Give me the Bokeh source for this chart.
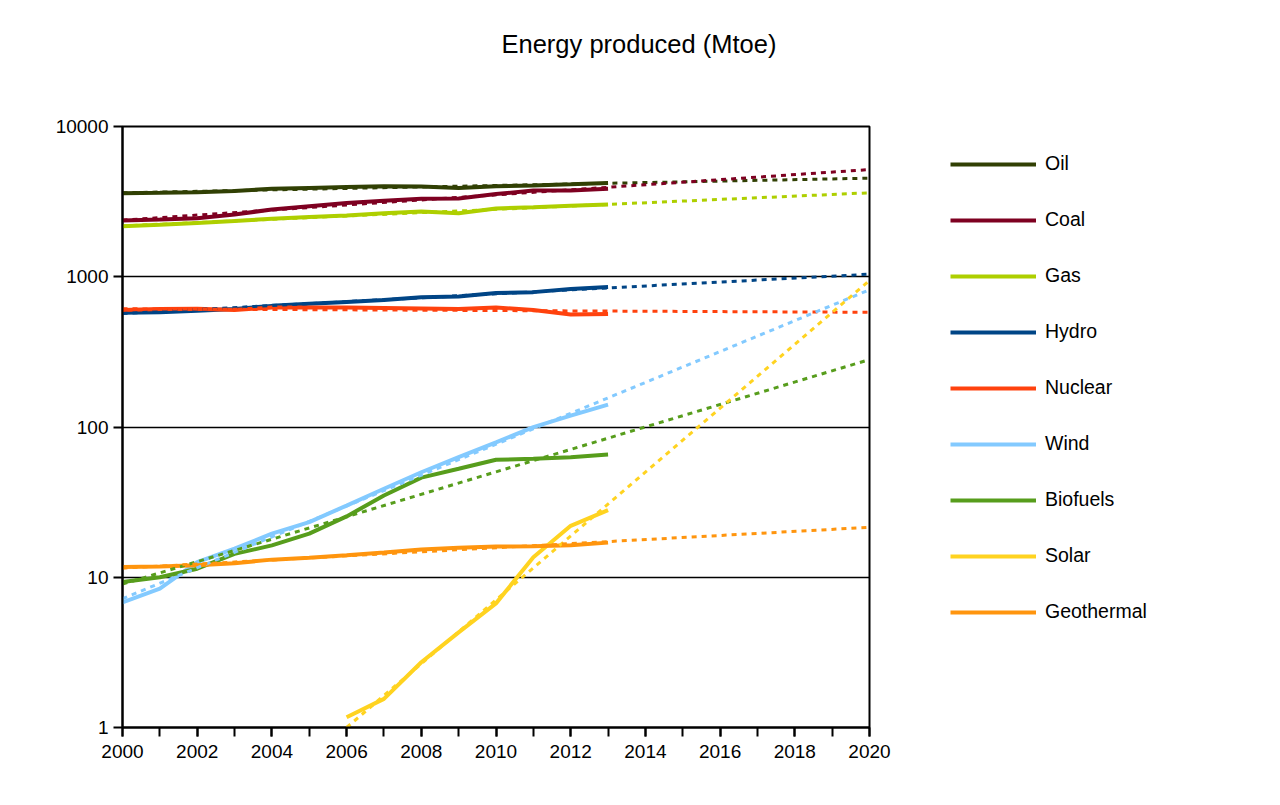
from bokeh.plotting import figure
from bokeh.models import Range1d, FixedTicker, PrintfTickFormatter, Legend, LegendItem, Title
from bokeh.embed import file_html
from bokeh.resources import INLINE

# ---- data (Mtoe) ----
years = list(range(2000, 2014))
solar_years = list(range(2006, 2014))

oil = [3600, 3620, 3650, 3720, 3850, 3900, 3950, 4000, 3990, 3900, 4000, 4050, 4120, 4200]
coal = [2370, 2400, 2450, 2600, 2800, 2950, 3100, 3200, 3300, 3320, 3550, 3750, 3750, 3850]
gas = [2170, 2220, 2280, 2350, 2430, 2500, 2560, 2650, 2720, 2650, 2850, 2900, 2970, 3030]
hydro = [575, 580, 595, 610, 640, 660, 680, 700, 730, 740, 780, 790, 830, 855]
nuclear = [600, 610, 612, 600, 625, 625, 625, 620, 615, 610, 625, 600, 560, 565]
wind = [6.8, 8.4, 12.6, 15.5, 19.5, 23.3, 30, 38.8, 50, 63, 79, 99.7, 119, 141]
biofuels = [9.3, 10, 11.4, 14.3, 16.3, 19.5, 25.4, 35, 46, 52.7, 60.5, 61.4, 63, 65.6]
solar = [1.17, 1.55, 2.72, 4.3, 6.7, 13.6, 22, 28]
geothermal = [11.7, 11.8, 12, 12.4, 13.1, 13.5, 14, 14.6, 15.3, 15.7, 16, 16.1, 16.3, 17]

# trend lines: start / end values
trend_years = [2000, 2020]
solar_trend_years = [2006, 2020]
oil_trend = [3620, 4530]
coal_trend = [2380, 5170]
gas_trend = [2180, 3620]
hydro_trend = [570, 1040]
nuclear_trend = [612, 580]
wind_trend = [7.2, 819]
biofuels_trend = [9.0, 281]
solar_trend = [1.0, 944]
geothermal_trend = [11.5, 21.5]

names = ["Oil", "Coal", "Gas", "Hydro", "Nuclear", "Wind", "Biofuels", "Solar", "Geothermal"]
colors = ["#314004", "#7e0021", "#aecf00", "#004586", "#ff420e",
          "#83caff", "#579d1c", "#ffd320", "#ff950e"]
series = [(years, oil), (years, coal), (years, gas), (years, hydro), (years, nuclear),
          (years, wind), (years, biofuels), (solar_years, solar), (years, geothermal)]
trends = [(trend_years, oil_trend), (trend_years, coal_trend), (trend_years, gas_trend),
          (trend_years, hydro_trend), (trend_years, nuclear_trend), (trend_years, wind_trend),
          (trend_years, biofuels_trend), (solar_trend_years, solar_trend),
          (trend_years, geothermal_trend)]

FONT = "Liberation Sans"

p = figure(frame_width=747, frame_height=601,
           x_range=Range1d(2000, 2020), y_range=Range1d(1, 10000),
           y_axis_type="log", output_backend="svg", toolbar_location=None,
           min_border_left=122, min_border_right=0,
           min_border_top=126, min_border_bottom=66)

p.background_fill_color = "white"
p.border_fill_color = "white"
p.outline_line_color = "black"
p.outline_line_width = 2
p.outline_line_alpha = 1.0

# axes
p.xaxis.ticker = FixedTicker(ticks=list(range(2000, 2021, 2)), minor_ticks=list(range(2000, 2021)))
p.yaxis.ticker = FixedTicker(ticks=[1, 10, 100, 1000, 10000], minor_ticks=[])
p.yaxis.formatter = PrintfTickFormatter(format="%d")
for ax in (p.xaxis, p.yaxis):
    ax.axis_line_color = "black"
    ax.axis_line_width = 2
    ax.major_tick_line_color = "black"
    ax.major_tick_line_width = 2
    ax.minor_tick_line_color = "black"
    ax.minor_tick_line_width = 2
    ax.major_tick_in = 0
    ax.major_tick_out = 9
    ax.minor_tick_in = 0
    ax.minor_tick_out = 9
    ax.major_label_text_font = FONT
    ax.major_label_text_font_size = "19px"
    ax.major_label_text_color = "black"
p.xaxis.major_label_standoff = 8
p.yaxis.major_label_standoff = 5

p.xgrid.visible = False
p.ygrid.ticker = FixedTicker(ticks=[1, 10, 100, 1000, 10000])
p.ygrid.grid_line_color = "black"
p.ygrid.grid_line_width = 1.5
p.ygrid.grid_line_alpha = 1.0

items = []
for name, c, (xs, ys) in zip(names, colors, series):
    r = p.line(xs, ys, line_color=c, line_width=4)
    items.append(LegendItem(label=name, renderers=[r]))

for c, (xs, ys) in zip(colors, trends):
    p.line(xs, ys, line_color=c, line_width=3, line_dash="5 5")

legend = Legend(items=items, location=(81, 104),
                border_line_color=None, background_fill_alpha=0,
                padding=0, margin=81, glyph_width=86, glyph_height=20,
                label_height=20, spacing=33, label_standoff=9,
                label_text_font=FONT, label_text_font_size="19.5px",
                label_text_color="black")
p.add_layout(legend, "right")

# spacer between frame and title (closest to the frame), then the title itself
spacer = Title(text=" ", text_font_size="10px", standoff=56)
p.add_layout(spacer, "above")
title = Title(text="Energy produced (Mtoe)", align="left", offset=379, standoff=0,
              text_font=FONT, text_font_size="25.5px", text_font_style="normal",
              text_color="black")
p.add_layout(title, "above")

open("out.html", "w").write(file_html(p, INLINE))
